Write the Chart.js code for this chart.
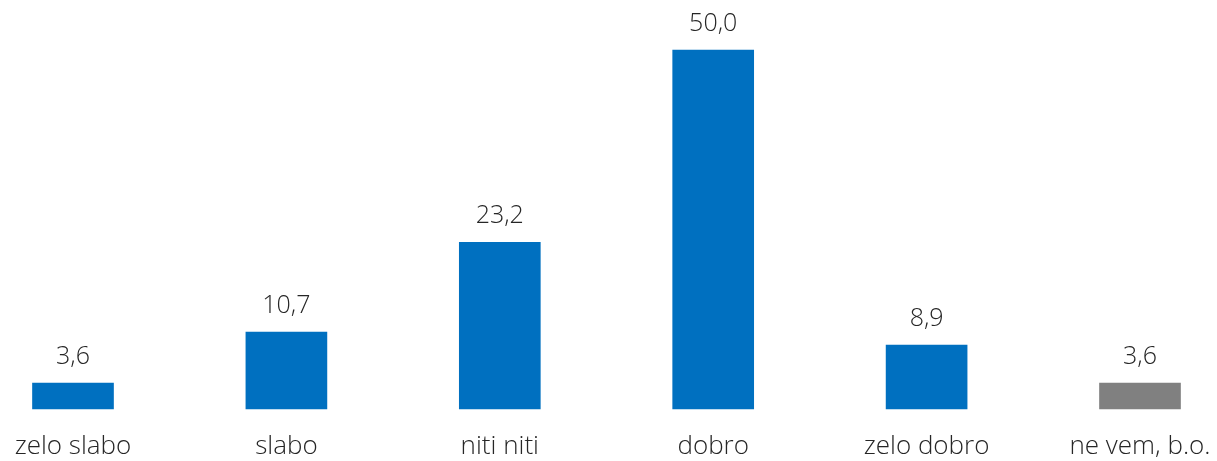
<!DOCTYPE html>
<html><head><meta charset="utf-8">
<script src="https://cdn.jsdelivr.net/npm/chart.js@4/dist/chart.umd.min.js"></script>
<style>html,body{margin:0;padding:0;background:#fff}#wrap{width:1217px;height:461px}</style>
</head><body><div id="wrap"><canvas id="c" width="1217" height="461"></canvas></div>
<script>
const categories = ["zelo slabo", "slabo", "niti niti", "dobro", "zelo dobro", "ne vem, b.o."];
const values = [3.6, 10.7, 23.2, 50.0, 8.9, 3.6];
const valueLabels = ["3,6", "10,7", "23,2", "50,0", "8,9", "3,6"];
const barColors = ["#0070C0", "#0070C0", "#0070C0", "#0070C0", "#0070C0", "#808080"];
const FONT = "'Open Sans', sans-serif";

const valuePlugin = {
  id: 'valueLabels',
  afterDatasetsDraw(chart) {
    const ctx = chart.ctx;
    const meta = chart.getDatasetMeta(0);
    ctx.save();
    ctx.font = "300 25px " + FONT;
    ctx.fillStyle = "#262626";
    ctx.textAlign = "center";
    ctx.textBaseline = "alphabetic";
    meta.data.forEach((bar, i) => {
      ctx.fillText(valueLabels[i], bar.x, bar.y - 19);
    });
    ctx.restore();
  }
};

new Chart(document.getElementById('c'), {
  type: 'bar',
  data: {
    labels: categories,
    datasets: [{ data: values, backgroundColor: barColors, barThickness: 81, clip: false }]
  },
  options: {
    responsive: false,
    animation: false,
    devicePixelRatio: 1,
    layout: { padding: { top: 50, left: 73, right: 77, bottom: 0 } },
    plugins: { legend: { display: false }, tooltip: { enabled: false } },
    scales: {
      x: {
        offset: false,
        grid: { display: false, drawTicks: false },
        border: { display: false },
        afterFit(scale) { scale.height = 52; scale.paddingLeft = 0; scale.paddingRight = 0; },
        ticks: { color: "#262626", font: { family: FONT, size: 26, weight: 300 }, padding: 22, maxRotation: 0, autoSkip: false }
      },
      y: { display: false, min: 0, max: 50 }
    }
  },
  plugins: [valuePlugin]
});
</script></body></html>
